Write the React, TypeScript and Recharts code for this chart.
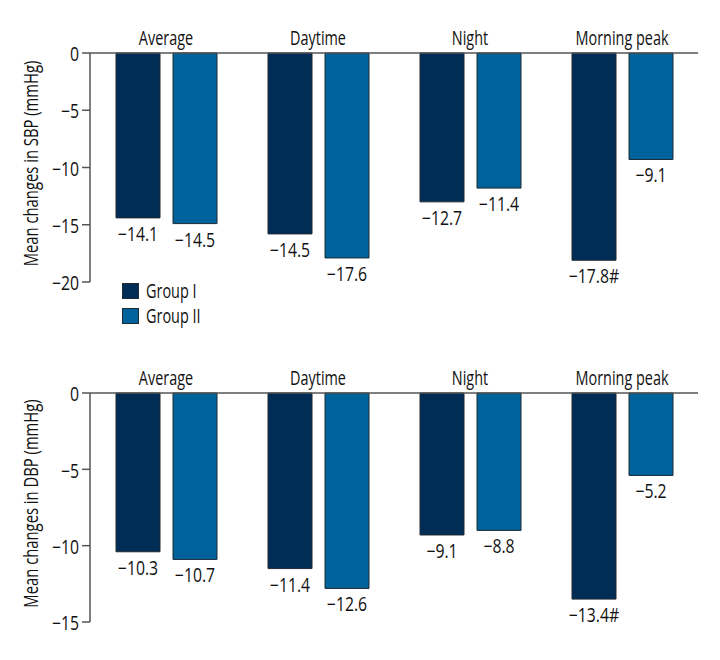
import React from 'react';
import { BarChart, Bar, XAxis, YAxis, LabelList, Legend } from 'recharts';

const categories = ['Average', 'Daytime', 'Night', 'Morning peak'];
const seriesNames = ['Group I', 'Group II'];

const sbpGroupI = [-14.4, -15.8, -13.0, -18.1];
const sbpGroupII = [-14.9, -17.9, -11.8, -9.3];
const sbpLabelsI = ['−14.1', '−14.5', '−12.7', '−17.8#'];
const sbpLabelsII = ['−14.5', '−17.6', '−11.4', '−9.1'];
const sbpTicks = [0, -5, -10, -15, -20];

const dbpGroupI = [-10.4, -11.5, -9.3, -13.5];
const dbpGroupII = [-10.9, -12.8, -9.0, -5.4];
const dbpLabelsI = ['−10.3', '−11.4', '−9.1', '−13.4#'];
const dbpLabelsII = ['−10.7', '−12.6', '−8.8', '−5.2'];
const dbpTicks = [0, -5, -10, -15];

const COLORS = ['#002d56', '#00629b'];
const FONT = "'Open Sans', 'Noto Sans', sans-serif";
const FS = 19.5;
const SX = 0.74;
const SX_NUM = 0.81;
const AXIS = '#555555';
const TEXT = '#111111';

const build = (g1: number[], g2: number[], l1: string[], l2: string[]) =>
  categories.map((name, i) => ({ name, g1: g1[i], g2: g2[i], l1: l1[i], l2: l2[i] }));

const sbpData = build(sbpGroupI, sbpGroupII, sbpLabelsI, sbpLabelsII);
const dbpData = build(dbpGroupI, dbpGroupII, dbpLabelsI, dbpLabelsII);

const fmt = (v: number) => String(v).replace('-', '−');

const NarrowText = ({ x, y, anchor, dy, sx = SX, children }: any) => (
  <g transform={`translate(${x},${y})`}>
    <text transform={`scale(${sx},1)`} textAnchor={anchor} dy={dy} fontSize={FS} fill={TEXT} fontFamily={FONT}>
      {children}
    </text>
  </g>
);

const XTick = (props: any) => (
  <NarrowText x={props.x} y={props.y} anchor="middle">{props.payload.value}</NarrowText>
);

const YTick = (props: any) => (
  <NarrowText x={props.x} y={props.y} anchor="end" dy="0.42em" sx={SX_NUM}>{fmt(props.payload.value)}</NarrowText>
);

const renderValueLabel = (props: any) => {
  const vb = props.viewBox || {};
  const x = Number(props.x ?? vb.x);
  const y = Number(props.y ?? vb.y);
  const width = Number(props.width ?? vb.width);
  const height = Number(props.height ?? vb.height);
  const bottom = Math.max(y, y + height);
  return <NarrowText x={x + width / 2} y={bottom + 23} anchor="middle" sx={SX_NUM}>{props.value}</NarrowText>;
};

const makeYLabel = (text: string) => (props: any) => {
  const vb = props.viewBox || {};
  const cy = vb.y + vb.height / 2 - 4;
  const cx = 38;
  return (
    <g transform={`translate(${cx},${cy}) rotate(-90)`}>
      <text transform="scale(0.76,1)" textAnchor="middle" fontSize={FS} fill={TEXT} fontFamily={FONT}>
        {text}
      </text>
    </g>
  );
};

const LegendContent = () => (
  <div style={{ fontFamily: FONT, fontSize: FS, color: TEXT }}>
    {seriesNames.map((n, i) => (
      <div key={n} style={{ display: 'flex', alignItems: 'center', height: 24.4 }}>
        <div style={{ width: 15, height: 14, background: COLORS[i], border: '1px solid #1f2a33', marginRight: 7, flex: 'none' }} />
        <span style={{ lineHeight: '18px', display: 'inline-block', transform: `scaleX(${SX})`, transformOrigin: 'left center', whiteSpace: 'nowrap' }}>{n}</span>
      </div>
    ))}
  </div>
);

const Panel = ({ data, ticks, domain, yLabel, height, bottomMargin, withLegend }: any) => (
  <BarChart
    width={720}
    height={height}
    data={data}
    margin={{ top: 0, right: 22, bottom: bottomMargin, left: 30 }}
    barSize={44}
    barGap={13}
  >
    <XAxis
      dataKey="name"
      orientation="top"
      height={53}
      axisLine={{ stroke: AXIS, strokeWidth: 1.5 }}
      tickLine={false}
      tick={<XTick />}
    />
    <YAxis
      type="number"
      domain={domain}
      ticks={ticks}
      width={60}
      axisLine={{ stroke: AXIS, strokeWidth: 1.5 }}
      tickLine={{ stroke: AXIS, strokeWidth: 1.5 }}
      tickSize={8}
      tickMargin={3}
      tick={<YTick />}
      label={{ content: makeYLabel(yLabel) }}
    />
    {withLegend && (
      <Legend
        layout="vertical"
        align="center"
        verticalAlign="middle"
        wrapperStyle={{ left: 122, top: 279, width: 120, height: 50 }}
        content={<LegendContent />}
      />
    )}
    <Bar dataKey="g1" name={seriesNames[0]} fill={COLORS[0]} stroke="#1f2a33" strokeWidth={1} isAnimationActive={false}>
      <LabelList dataKey="l1" content={renderValueLabel} />
    </Bar>
    <Bar dataKey="g2" name={seriesNames[1]} fill={COLORS[1]} stroke="#1f2a33" strokeWidth={1} isAnimationActive={false}>
      <LabelList dataKey="l2" content={renderValueLabel} />
    </Bar>
  </BarChart>
);

export default function App() {
  return (
    <div style={{ position: 'absolute', left: 0, top: 0, width: 720, height: 660, background: '#fff' }}>
      <div style={{ position: 'absolute', left: 0, top: 0 }}>
        <Panel data={sbpData} ticks={sbpTicks} domain={[-20, 0]} yLabel="Mean changes in SBP (mmHg)" height={340} bottomMargin={58} withLegend />
      </div>
      <div style={{ position: 'absolute', left: 0, top: 340 }}>
        <Panel data={dbpData} ticks={dbpTicks} domain={[-15, 0]} yLabel="Mean changes in DBP (mmHg)" height={320} bottomMargin={38} withLegend={false} />
      </div>
    </div>
  );
}
